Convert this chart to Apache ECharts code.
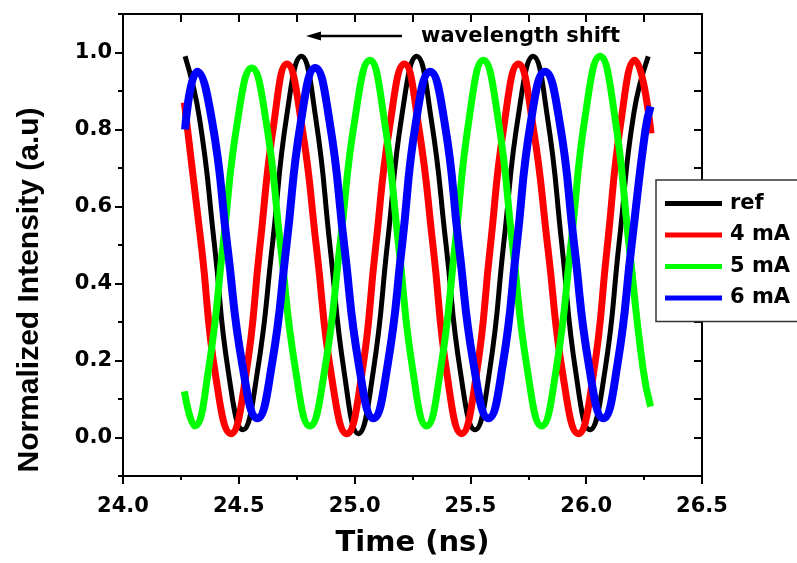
<!DOCTYPE html>
<html>
<head>
<meta charset="utf-8">
<script src="https://cdn.jsdelivr.net/npm/echarts@6/dist/echarts.min.js"></script>
<style>
html, body { margin: 0; padding: 0; background: #fff; }
#main { width: 797px; height: 563px; }
</style>
</head>
<body>
<div id="main"></div>
<script>
// values (time in ns, normalized intensity)
var seriesNames = ['ref', '4 mA', '5 mA', '6 mA'];

var timeRef = [24.268, 24.33, 24.395, 24.455, 24.518, 24.58, 24.645, 24.708, 24.77, 24.832, 24.895, 24.955, 25.016, 25.08, 25.143, 25.205, 25.268, 25.33, 25.395, 25.457, 25.52, 25.582, 25.645, 25.708, 25.771, 25.833, 25.895, 25.955, 26.016, 26.08, 26.143, 26.205, 26.268];
var valRef = [0.99, 0.83, 0.50, 0.17, 0.02, 0.17, 0.50, 0.84, 0.99, 0.83, 0.49, 0.17, 0.01, 0.17, 0.51, 0.84, 0.99, 0.83, 0.50, 0.17, 0.02, 0.17, 0.51, 0.84, 0.99, 0.83, 0.50, 0.17, 0.02, 0.17, 0.51, 0.84, 0.99];

var time4mA = [24.265, 24.34, 24.40, 24.466, 24.53, 24.59, 24.65, 24.708, 24.772, 24.836, 24.90, 24.966, 25.03, 25.09, 25.152, 25.215, 25.276, 25.34, 25.40, 25.462, 25.525, 25.585, 25.645, 25.707, 25.77, 25.835, 25.90, 25.966, 26.03, 26.09, 26.15, 26.21, 26.28];
var val4mA = [0.87, 0.49, 0.16, 0.01, 0.16, 0.49, 0.81, 0.97, 0.81, 0.49, 0.16, 0.01, 0.16, 0.49, 0.81, 0.97, 0.81, 0.49, 0.16, 0.01, 0.16, 0.49, 0.81, 0.97, 0.81, 0.49, 0.16, 0.01, 0.16, 0.49, 0.82, 0.98, 0.79];

var time5mA = [24.265, 24.31, 24.37, 24.432, 24.494, 24.556, 24.618, 24.68, 24.744, 24.807, 24.872, 24.937, 25.002, 25.066, 25.127, 25.19, 25.25, 25.311, 25.372, 25.434, 25.495, 25.556, 25.619, 25.682, 25.745, 25.808, 25.871, 25.934, 25.997, 26.06, 26.122, 26.185, 26.245, 26.278];
var val5mA = [0.12, 0.03, 0.18, 0.50, 0.82, 0.96, 0.82, 0.50, 0.18, 0.03, 0.18, 0.50, 0.83, 0.98, 0.83, 0.50, 0.18, 0.03, 0.18, 0.50, 0.83, 0.98, 0.83, 0.50, 0.18, 0.03, 0.18, 0.50, 0.84, 0.99, 0.84, 0.50, 0.18, 0.08];

var time6mA = [24.268, 24.32, 24.385, 24.45, 24.515, 24.58, 24.643, 24.706, 24.768, 24.83, 24.892, 24.955, 25.018, 25.081, 25.143, 25.205, 25.265, 25.326, 25.388, 25.45, 25.514, 25.578, 25.64, 25.70, 25.761, 25.822, 25.885, 25.948, 26.011, 26.074, 26.135, 26.196, 26.256, 26.278];
var val6mA = [0.80, 0.95, 0.82, 0.50, 0.19, 0.05, 0.19, 0.50, 0.82, 0.96, 0.82, 0.50, 0.19, 0.05, 0.19, 0.50, 0.82, 0.95, 0.82, 0.50, 0.19, 0.05, 0.19, 0.50, 0.82, 0.95, 0.82, 0.50, 0.19, 0.05, 0.19, 0.50, 0.80, 0.86];

var yLabelTicks = [0, 0.2, 0.4, 0.6, 0.8, 1.0];
var yMinorTicks = [-0.1, 0.1, 0.3, 0.5, 0.7, 0.9, 1.1];

function pairs(ts, vs) {
    return ts.map(function (t, i) { return [t, vs[i]]; });
}

var black = '#000';
var tickFont = { fontFamily: 'DejaVu Sans', fontWeight: 'bold', fontSize: 21, color: black };
var axisLine = { show: true, onZero: false, lineStyle: { color: black, width: 2 } };
var tickLine = { color: black, width: 2 };

function lineSeries(name, ts, vs, color, width) {
    return {
        name: name,
        type: 'line',
        data: pairs(ts, vs),
        smooth: true,
        showSymbol: false,
        symbol: 'none',
        color: color,
        lineStyle: { color: color, width: width },
        xAxisIndex: 0,
        yAxisIndex: 0
    };
}

var myChart = echarts.init(document.getElementById('main'));
myChart.setOption({
    animation: false,
    backgroundColor: '#fff',
    grid: { left: 123, right: 95, top: 14, bottom: 83 },
    xAxis: [{
        type: 'value',
        position: 'bottom',
        min: 24,
        max: 26.5,
        interval: 0.5,
        axisLine: axisLine,
        axisTick: { show: true, length: 8, lineStyle: tickLine },
        minorTick: { show: true, splitNumber: 2, length: 4, lineStyle: tickLine },
        axisLabel: Object.assign({ margin: 20, formatter: function (v) { return v.toFixed(1); } }, tickFont),
        splitLine: { show: false },
        name: 'Time (ns)',
        nameLocation: 'middle',
        nameGap: 53,
        nameTextStyle: { fontFamily: 'DejaVu Sans', fontWeight: 'bold', fontSize: 29, color: black }
    }, {
        type: 'value',
        position: 'top',
        min: 24,
        max: 26.5,
        interval: 0.25,
        axisLine: axisLine,
        axisTick: { show: true, inside: true, length: 8, lineStyle: tickLine },
        axisLabel: { show: false },
        splitLine: { show: false }
    }],
    yAxis: [{
        type: 'value',
        position: 'left',
        min: -0.1,
        max: 1.1,
        axisLine: axisLine,
        axisTick: { show: true, length: 8, lineStyle: tickLine, customValues: yLabelTicks },
        axisLabel: Object.assign({ margin: 11, customValues: yLabelTicks, formatter: function (v) { return v.toFixed(1); } }, tickFont),
        splitLine: { show: false }
    }, {
        type: 'value',
        position: 'left',
        min: -0.1,
        max: 1.1,
        axisLine: { show: false, onZero: false },
        axisTick: { show: true, length: 5, lineStyle: tickLine, customValues: yMinorTicks },
        axisLabel: { show: false },
        splitLine: { show: false }
    }, {
        type: 'value',
        position: 'right',
        min: -0.1,
        max: 1.1,
        interval: 0.1,
        axisLine: axisLine,
        axisTick: { show: true, inside: true, length: 8, lineStyle: tickLine },
        axisLabel: { show: false },
        splitLine: { show: false }
    }],
    legend: {
        data: seriesNames,
        orient: 'vertical',
        left: 656,
        top: 180,
        padding: [13, 9, 13, 9],
        itemGap: 10.5,
        itemWidth: 57,
        itemHeight: 5,
        icon: 'rect',
        backgroundColor: '#fff',
        borderColor: '#333',
        borderWidth: 1.5,
        borderRadius: 0,
        textStyle: { fontFamily: 'DejaVu Sans', fontWeight: 'bold', fontSize: 21, color: black, padding: [0, 0, 0, 3] }
    },
    graphic: [{
        type: 'text',
        x: 30,
        y: 290,
        rotation: Math.PI / 2,
        style: {
            text: 'Normalized Intensity (a.u)',
            font: 'bold 30px "Liberation Sans"',
            fill: black,
            align: 'center',
            verticalAlign: 'middle'
        }
    }, {
        type: 'line',
        shape: { x1: 402, y1: 36, x2: 316, y2: 36 },
        style: { stroke: black, lineWidth: 2.5 }
    }, {
        type: 'polygon',
        shape: { points: [[306, 36], [321, 31.5], [321, 40.5]] },
        style: { fill: black }
    }, {
        type: 'text',
        x: 421,
        y: 37,
        style: {
            text: 'wavelength shift',
            font: 'bold 21px "DejaVu Sans"',
            fill: black,
            align: 'left',
            verticalAlign: 'middle'
        }
    }],
    series: [
        lineSeries(seriesNames[0], timeRef, valRef, '#000000', 5),
        lineSeries(seriesNames[1], time4mA, val4mA, '#ff0000', 7),
        lineSeries(seriesNames[2], time5mA, val5mA, '#00ff00', 7),
        lineSeries(seriesNames[3], time6mA, val6mA, '#0000ff', 8)
    ]
});
</script>
</body>
</html>
